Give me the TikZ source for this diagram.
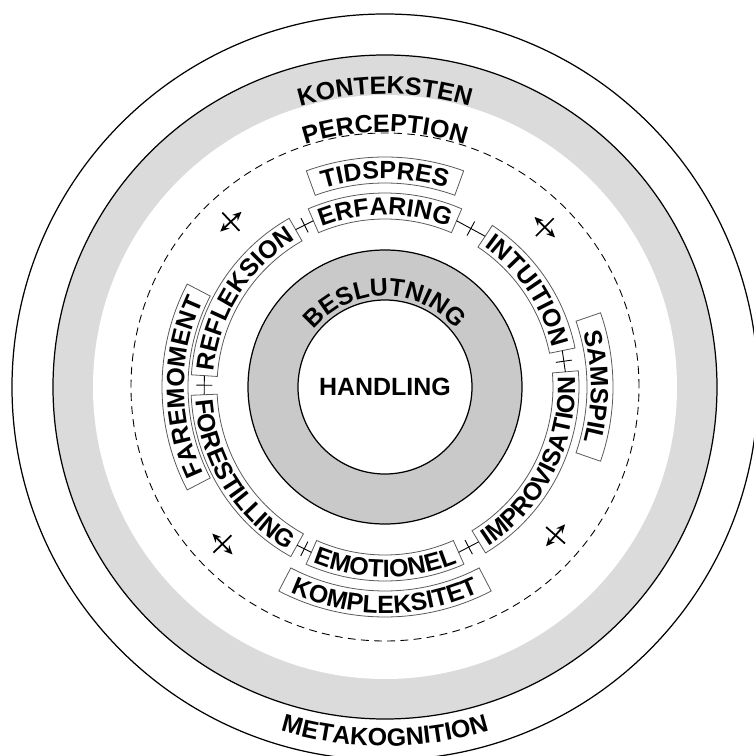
\documentclass[tikz,border=0pt]{standalone}
\usepackage{fontspec}
\setmainfont{Liberation Sans}
\usetikzlibrary{decorations.text,decorations.markings,arrows.meta}

\definecolor{bandgray}{gray}{0.86}
\definecolor{ringgray}{gray}{0.79}
\newcommand{\lblfont}{\fontsize{14.2}{17}\selectfont\bfseries}

\begin{document}
\begin{tikzpicture}[
ring/.style={line width=0.7pt},
lblbox/.style={draw=black!65, line width=0.45pt, fill=white},
arctext/.style={decorate, decoration={text along path, text align=center, text={|\lblfont|#1}}},
link/.style={line width=0.5pt, postaction={decorate},
  decoration={markings, mark=at position 0.5 with {\draw[line width=0.5pt] (0,-0.16) -- (0,0.16);}}},
turn/.style={line width=1pt}
]
\useasboundingbox (-7.70,-7.38) rectangle (7.38,7.74);

% rings
\draw[ring] (0,0) circle[radius=7.46];
\fill[bandgray] (0,0) circle[radius=6.64];
\draw[ring] (0,0) circle[radius=6.64];
\fill[white] (0,0) circle[radius=5.84];
\draw[dash pattern=on 4.5pt off 3pt, line width=0.5pt] (0,0) circle[radius=5.08];
\filldraw[ring, fill=ringgray] (0,0) circle[radius=2.74];
\filldraw[ring, fill=white] (0,0) circle[radius=1.74];
\node[font=\lblfont] (handling) at (0,0) {HANDLING};

% label boxes
\foreach \a/\h/\r in {90/20/4.34, 0/19/4.30, 270/27.5/4.34, 180/27.5/4.20,
  90/23.3/3.62, 34/22.4/3.62, -27/31.8/3.62, 270/24/3.62, 211.7/29.25/3.62, 148/28.4/3.62}
  \draw[lblbox] ({\a-\h}:{\r-0.26}) arc[start angle={\a-\h}, end angle={\a+\h}, radius={\r-0.26}]
    -- ({\a+\h}:{\r+0.26}) arc[start angle={\a+\h}, end angle={\a-\h}, radius={\r+0.26}] -- cycle;

% texts, clockwise (upper half)
\path[arctext=KONTEKSTEN] (175:5.86) arc[start angle=175, end angle=5, radius=5.86];
\path[arctext=PERCEPTION] (175:5.10) arc[start angle=175, end angle=5, radius=5.10];
\path[arctext=TIDSPRES] (175:4.16) arc[start angle=175, end angle=5, radius=4.16];
\path[arctext=ERFARING] (175:3.44) arc[start angle=175, end angle=5, radius=3.44];
\path[arctext=REFLEKSION] (233:3.44) arc[start angle=233, end angle=63, radius=3.44];
\path[arctext=INTUITION] (119:3.44) arc[start angle=119, end angle=-51, radius=3.44];
\path[arctext=FAREMOMENT] (265:4.02) arc[start angle=265, end angle=95, radius=4.02];
\path[arctext=SAMSPIL] (85:4.12) arc[start angle=85, end angle=-85, radius=4.12];
\path[arctext=BESLUTNING] (175:1.82) arc[start angle=175, end angle=5, radius=1.82];

% texts, counter-clockwise (lower half)
\path[arctext=METAKOGNITION] (185:7.18) arc[start angle=185, end angle=355, radius=7.18];
\path[arctext=KOMPLEKSITET] (185:4.52) arc[start angle=185, end angle=355, radius=4.52];
\path[arctext=EMOTIONEL] (185:3.80) arc[start angle=185, end angle=355, radius=3.80];
\path[arctext=FORESTILLING] (126.7:3.80) arc[start angle=126.7, end angle=296.7, radius=3.80];
\path[arctext=IMPROVISATION] (248:3.80) arc[start angle=248, end angle=418, radius=3.80];

% box ends on the inner label ring
\coordinate (refl-a) at (119.6:3.62);
\coordinate (refl-b) at (176.4:3.62);
\coordinate (erf-a) at (113.3:3.62);
\coordinate (erf-b) at (66.7:3.62);
\coordinate (intu-a) at (56.4:3.62);
\coordinate (intu-b) at (11.6:3.62);
\coordinate (impro-a) at (4.8:3.62);
\coordinate (impro-b) at (-58.8:3.62);
\coordinate (emo-a) at (-66:3.62);
\coordinate (emo-b) at (-114:3.62);
\coordinate (fore-a) at (240.95:3.62);
\coordinate (fore-b) at (182.45:3.62);

\draw[link] (refl-a) -- (erf-a);
\draw[link] (erf-b) -- (intu-a);
\draw[link] (intu-b) -- (impro-a);
\draw[link] (impro-b) -- (emo-a);
\draw[link] (emo-b) -- (fore-a);
\draw[link] (fore-b) -- (refl-b);

% turning marks
\foreach \a in {133,45,224,-41}{
  \begin{scope}[shift={(\a:4.52)}, rotate=\a]
    \draw[turn, {Stealth[length=5pt,width=4.5pt]}-{Stealth[length=5pt,width=4.5pt]}] (0,-0.29) -- (0,0.29);
    \draw[turn] (-0.25,0) -- (0.25,0);
  \end{scope}
}

\end{tikzpicture}
\end{document}
